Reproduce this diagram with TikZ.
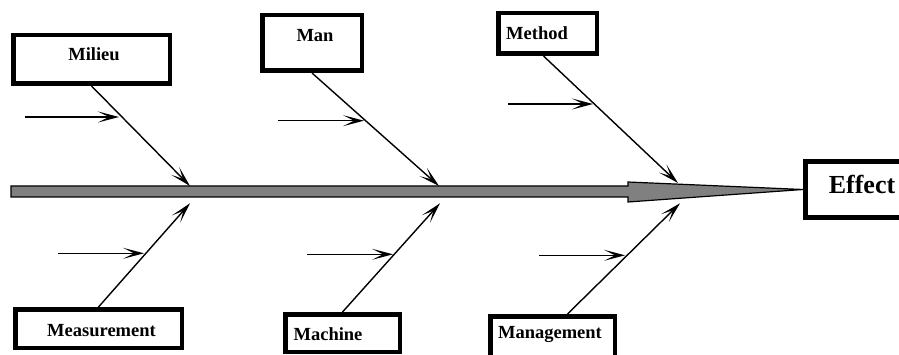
\documentclass[tikz,border=0pt]{standalone}
\usepackage{fontspec}
\setmainfont{Liberation Serif}
\usetikzlibrary{arrows.meta,calc}
\definecolor{spinegray}{RGB}{128,128,128}
\begin{document}
\begin{tikzpicture}[x=1pt,y=-1pt,
  cause/.style={draw=black,line width=4.5pt,fill=white,inner sep=0pt},
  lbl/.style={font=\bfseries\fontsize{18.5}{20}\selectfont,inner sep=0pt,anchor=base},
  biglbl/.style={font=\bfseries\fontsize{26}{28}\selectfont,inner sep=0pt,anchor=base},
  spine/.style={fill=spinegray,draw=black,line width=1.2pt,line join=miter},
  bone/.style={line width=1.4pt,-{Stealth[length=21pt,width=11pt,inset=11pt]}},
  sub/.style={line width=1.4pt,-{Stealth[length=21pt,width=11pt,inset=11pt]}}]
\useasboundingbox (0,0) rectangle (899,355);
\clip (0,0) rectangle (899,355);
% cause boxes
\node[cause,minimum width=156.5pt,minimum height=48.5pt] (milieu) at (91.5,59.5) {};
\node[cause,minimum width=99.5pt,minimum height=55.5pt] (man) at (312,43) {};
\node[cause,minimum width=98.5pt,minimum height=40.5pt] (method) at (547.5,33.5) {};
\node[cause,minimum width=166.5pt,minimum height=38.5pt] (meas) at (98.5,328.5) {};
\node[cause,minimum width=114.5pt,minimum height=37.5pt] (mach) at (342.5,333) {};
\node[cause,minimum width=124.5pt,minimum height=43.5pt] (mgmt) at (552.5,338) {};
\node[cause,line width=5pt,minimum width=107pt,minimum height=56pt] (effect) at (859,189.5) {};
% labels
\node[lbl] (milieuT) at (94,61) {Milieu};
\node[lbl] (manT) at (315,41.7) {Man};
\node[lbl] (methodT) at (537,39.3) {Method};
\node[lbl] (measT) at (101.5,336.7) {Measurement};
\node[lbl] (machT) at (328,340) {Machine};
\node[lbl] (mgmtT) at (550,338) {Management};
\node[biglbl] (effectT) at (862,194) {Effect};
% spine
\draw[spine] (11,186) -- (628,186) -- (628,182) -- (effect.west) -- (628,202) -- (628,197) -- (11,197) -- cycle;
% bone ends on the spine
\coordinate (s1) at (190,186);
\coordinate (s2) at (439,186);
\coordinate (s3) at (678,183);
\coordinate (s4) at (190,203.3);
\coordinate (s5) at (440,203.3);
\coordinate (s6) at (680,203.3);
\draw[bone] (milieu.south) -- (s1);
\draw[bone] (man.south) -- (s2);
\draw[bone] ([xshift=-4pt]method.south) -- (s3);
\draw[bone] (meas.north) -- (s4);
\draw[bone] (mach.north) -- (s5);
\draw[bone] ([xshift=15pt]mgmt.north) -- (s6);
% sub-cause arrows
\coordinate (h1a) at (25,117);    \coordinate (h1b) at (119,117);
\coordinate (h2a) at (278,120.7); \coordinate (h2b) at (364,120.7);
\coordinate (h3a) at (508,104);   \coordinate (h3b) at (593,104);
\coordinate (h4a) at (58,253.3);  \coordinate (h4b) at (144,253.3);
\coordinate (h5a) at (307,254.3); \coordinate (h5b) at (393,254.3);
\coordinate (h6a) at (539,255.3); \coordinate (h6b) at (625,255.3);
\draw[sub] (h1a) -- (h1b);
\draw[sub] (h2a) -- (h2b);
\draw[sub] (h3a) -- (h3b);
\draw[sub] (h4a) -- (h4b);
\draw[sub] (h5a) -- (h5b);
\draw[sub] (h6a) -- (h6b);
\end{tikzpicture}
\end{document}
